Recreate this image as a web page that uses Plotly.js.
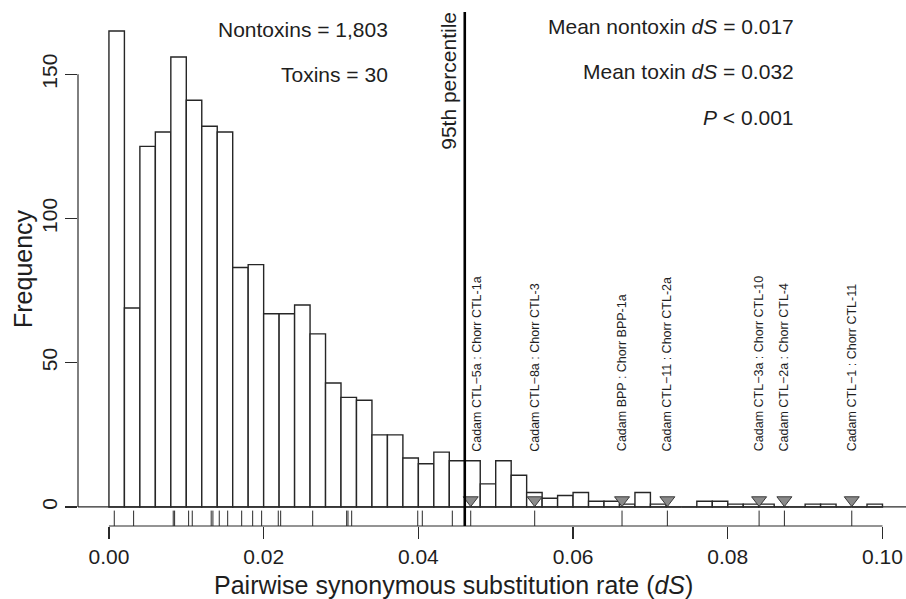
<!DOCTYPE html>
<html>
<head>
<meta charset="utf-8">
<script src="https://cdn.plot.ly/plotly-3.0.1.min.js"></script>
<style>html,body{margin:0;padding:0;background:#fff;}#chart{width:906px;height:599px;}</style>
</head>
<body>
<div id="chart"></div>
<script>
// ---- data ----
const binStart = 0;
const binWidth = 0.002;
const nontoxinCounts = [165,69,125,130,156,141,132,130,83,84,
                        67,67,70,60,43,38,37,25,25,17,
                        15,19,16,16,8,16,11,5,3,4,
                        5,2,2,1,5,1,0,0,2,2,
                        1,1,1,0,0,1,1,0,0,1];
const toxinDS = [0.00069,0.00319,0.00831,0.00849,0.01030,0.01077,0.01322,0.01344,0.01426,0.01535,
                 0.01716,0.01858,0.01974,0.02189,0.02220,0.02634,0.03073,0.03090,0.03138,0.03992,
                 0.04051,0.04439,0.04677,0.05504,0.06633,0.07219,0.08405,0.08732,0.09603];
const percentile95 = 0.046;
const outlierLabels = ["Cadam CTL\u22125a : Chorr CTL-1a","Cadam CTL\u22128a : Chorr CTL-3",
                       "Cadam BPP : Chorr BPP-1a","Cadam CTL\u221211 : Chorr CTL-2a",
                       "Cadam CTL\u22123a : Chorr CTL-10","Cadam CTL\u22122a : Chorr CTL-4",
                       "Cadam CTL\u22121 : Chorr CTL-11"];
const xTickVals = [0,0.02,0.04,0.06,0.08,0.10];
const xTickText = ["0.00","0.02","0.04","0.06","0.08","0.10"];
const yTickVals = [0,50,100,150];
const yTickText = ["0","50","100","150"];
const nNontoxins = "1,803";
const nToxins = "30";
const meanNontoxin = "0.017";
const meanToxin = "0.032";
const pValue = "0.001";

// ---- build ----
const binCenters = nontoxinCounts.map((c,i)=> binStart + binWidth*(i+0.5));
const outliers = toxinDS.filter(v => v > percentile95);
const FONT = "Liberation Sans, Arial, Helvetica, sans-serif";
const INK = "#1e1e1e";

const traces = [
  {type:'bar', x:binCenters, y:nontoxinCounts, width:binWidth,
   marker:{color:'#ffffff', line:{color:'#262626', width:1.4}}, hoverinfo:'x+y'},
  {type:'scatter', mode:'markers', x:outliers, y:outliers.map(()=>2.4),
   marker:{symbol:'triangle-down', size:13, color:'#8a8a8a', line:{color:'#3a3a3a', width:1}}}
];

const shapes = [];
shapes.push({type:'line', xref:'paper', yref:'y', x0:0, x1:1, y0:0, y1:0, line:{color:'#2a2a2a', width:1.2}});
shapes.push({type:'line', xref:'x', yref:'paper', x0:xTickVals[0], x1:xTickVals[xTickVals.length-1], y0:0, y1:0, line:{color:'#2a2a2a', width:1.2}});
shapes.push({type:'line', xref:'paper', yref:'y', x0:0, x1:0, y0:yTickVals[0], y1:yTickVals[yTickVals.length-1], line:{color:'#2a2a2a', width:1.2}});
toxinDS.forEach(v => shapes.push({type:'line', xref:'x', yref:'paper', x0:v, x1:v, y0:0, y1:0.03, line:{color:'#2a2a2a', width:1}}));
shapes.push({type:'line', xref:'x', yref:'paper', x0:percentile95, x1:percentile95, y0:0, y1:1, line:{color:'#000', width:2.6}});

const annotations = [];
outliers.forEach((v,i) => annotations.push({
  x:v, y:18.5, xref:'x', yref:'y', xanchor:'center', yanchor:'bottom', textangle:-90,
  text:outlierLabels[i], showarrow:false, xshift: i===0 ? 6 : 0,
  font:{family:FONT, size:12.5, color:INK}
}));
annotations.push({x:percentile95, y:1, xref:'x', yref:'paper', xanchor:'center', yanchor:'top', xshift:-17, yshift:2,
  textangle:-90, text:'95th percentile', showarrow:false, font:{family:FONT, size:21, color:INK}});
const topFont = {family:FONT, size:21, color:INK};
annotations.push({x:0.03627, y:165.5, xref:'x', yref:'y', xanchor:'right', yanchor:'middle', showarrow:false,
  text:'Nontoxins = '+nNontoxins, font:topFont});
annotations.push({x:0.03627, y:150, xref:'x', yref:'y', xanchor:'right', yanchor:'middle', showarrow:false,
  text:'Toxins = '+nToxins, font:topFont});
annotations.push({x:0.0888, y:166.5, xref:'x', yref:'y', xanchor:'right', yanchor:'middle', showarrow:false,
  text:'Mean nontoxin <i>dS</i> = '+meanNontoxin, font:topFont});
annotations.push({x:0.0888, y:151, xref:'x', yref:'y', xanchor:'right', yanchor:'middle', showarrow:false,
  text:'Mean toxin <i>dS</i> = '+meanToxin, font:topFont});
annotations.push({x:0.0888, y:135, xref:'x', yref:'y', xanchor:'right', yanchor:'middle', showarrow:false,
  text:'<i>P</i> &lt; '+pValue, font:topFont});
annotations.push({x:0.0446, y:0, xref:'x', yref:'paper', xanchor:'center', yanchor:'middle', yshift:-59, showarrow:false,
  text:'Pairwise synonymous substitution rate (<i>dS</i>)', font:{family:FONT, size:25, color:INK}});
annotations.push({x:0, y:0.5, xref:'paper', yref:'paper', xanchor:'center', yanchor:'middle', xshift:-55, textangle:-90, showarrow:false,
  text:'Frequency', font:{family:FONT, size:25, color:INK}});

const layout = {
  width:906, height:599,
  margin:{l:78, r:0, t:12, b:73, pad:0},
  paper_bgcolor:'#fff', plot_bgcolor:'#fff',
  showlegend:false, bargap:0,
  xaxis:{range:[-0.004, 0.10304], tickvals:xTickVals, ticktext:xTickText, ticks:'outside', ticklen:12, tickwidth:1.2,
         tickcolor:'#2a2a2a', showgrid:false, zeroline:false, showline:false, fixedrange:true,
         tickfont:{family:FONT, size:21, color:INK}},
  yaxis:{range:[-6.6, 171.6], tickvals:yTickVals, ticktext:yTickText, ticks:'outside', ticklen:12, tickwidth:1.2,
         tickcolor:'#2a2a2a', showgrid:false, zeroline:false, showline:false, tickangle:-90, fixedrange:true,
         tickfont:{family:FONT, size:21, color:INK}},
  shapes:shapes, annotations:annotations
};
Plotly.newPlot('chart', traces, layout, {displayModeBar:false, staticPlot:true});
</script>
</body>
</html>
